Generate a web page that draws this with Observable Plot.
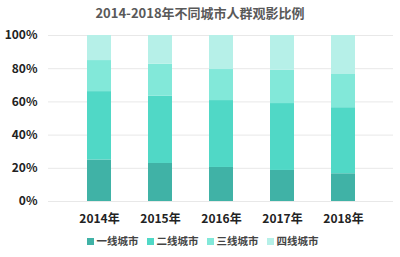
<!DOCTYPE html>
<html><head><meta charset="utf-8">
<script src="https://cdn.jsdelivr.net/npm/d3@7"></script>
<script src="https://cdn.jsdelivr.net/npm/@observablehq/plot@0.6"></script>
<style>
body{margin:0;background:#fff;font-family:"Noto Sans CJK SC","Noto Sans",sans-serif;}
#wrap{position:relative;width:400px;height:257px;overflow:hidden;}
#title{position:absolute;left:0;top:3px;width:400px;text-align:center;font-size:13px;font-weight:bold;color:#595959;line-height:20px;}
#chart{position:absolute;left:0;top:25px;}
#legend{position:absolute;left:0;top:232px;width:400px;display:flex;justify-content:center;gap:8px;font-size:10.5px;font-weight:bold;color:#444;line-height:18px;padding-left:5px;box-sizing:border-box;}
#legend span.sw{display:inline-block;width:7px;height:7px;margin-right:3px;vertical-align:middle;position:relative;top:-1px;}
</style></head>
<body><div id="wrap"><div id="title">2014-2018年不同城市人群观影比例</div><div id="chart"></div><div id="legend"></div></div>
<script>
const years = ["2014年","2015年","2016年","2017年","2018年"];
const tiers = ["一线城市","二线城市","三线城市","四线城市"];
const tierColors = ["#40b2a6","#50d8c6","#82e8d9","#b6f0e8"];
const tier1 = [25.0, 22.9, 20.5, 18.7, 16.7];
const tier2 = [41.2, 40.5, 40.3, 40.3, 39.8];
const tier3 = [18.7, 19.3, 18.7, 20.1, 20.0];
const tier4 = [15.1, 17.3, 20.5, 20.9, 23.5];
const yTicks = [0, 20, 40, 60, 80, 100];

const series = [tier1, tier2, tier3, tier4];
const data = [];
years.forEach((y, i) => tiers.forEach((t, j) => data.push({year: y, tier: t, value: series[j][i]})));

const plot = Plot.plot({
  width: 400, height: 205,
  marginTop: 10, marginBottom: 29, marginLeft: 48, marginRight: 7,
  style: {fontFamily: '"Noto Sans CJK SC","Noto Sans",sans-serif', fontSize: "12px", fontWeight: "bold", color: "#222"},
  x: {domain: years, padding: 0.61, label: null},
  y: {domain: [0, 100], label: null},
  color: {domain: tiers, range: tierColors},
  marks: [
    Plot.gridY(yTicks, {stroke: "#e8e8e8", strokeOpacity: 1}),
    Plot.barY(data, {x: "year", y: "value", fill: "tier", order: tiers}),
    Plot.axisY(yTicks, {tickSize: 0, tickPadding: 11, tickFormat: d => d + "%", fontSize: 12, fontWeight: "bold", fill: "#222"}),
    Plot.axisX({tickSize: 0, tickPadding: 13, fontSize: 12, fontWeight: "bold", fill: "#222"})
  ]
});
document.getElementById("chart").appendChild(plot);

const leg = document.getElementById("legend");
tiers.forEach((t, i) => {
  const item = document.createElement("div");
  item.innerHTML = `<span class="sw" style="background:${tierColors[i]}"></span>${t}`;
  leg.appendChild(item);
});
</script></body></html>
